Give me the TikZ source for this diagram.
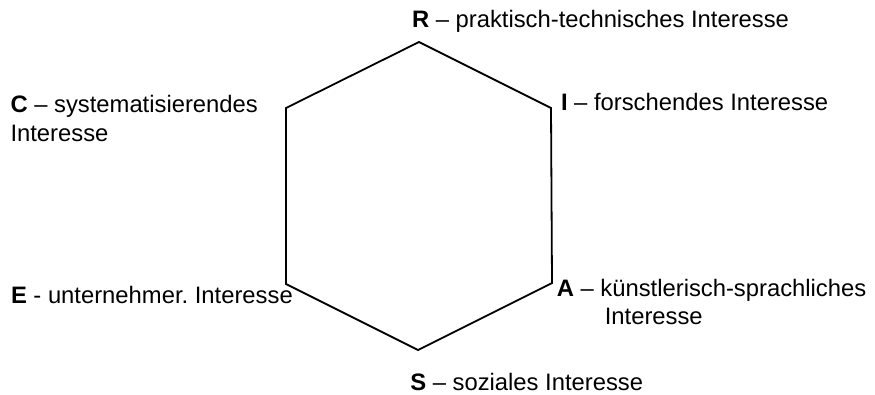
\documentclass[tikz,border=0pt]{standalone}
\usepackage{fontspec}
\setmainfont{Liberation Sans}
\frenchspacing
\begin{document}
\begin{tikzpicture}[x=1pt,y=-1pt,
  lbl/.style={anchor=base west,inner sep=0pt,outer sep=0pt,font=\fontsize{23.8}{28}\selectfont},
  hexline/.style={line width=1.8pt,line join=miter}]
\useasboundingbox (0,0) rectangle (875,394);
% hexagon vertices
\coordinate (T) at (419,42);
\coordinate (UR) at (551,108);
\coordinate (LR) at (552,283);
\coordinate (B) at (418,350);
\coordinate (LL) at (286,284);
\coordinate (UL) at (286,108);
\draw[hexline] (T) -- (UR) -- (LR) -- (B) -- (LL) -- (UL) -- cycle;
% labels
\node[lbl] (r) at (412,27.7) {\textbf{R} – praktisch-technisches Interesse};
\node[lbl] (i) at (561,110) {\textbf{I} – forschendes Interesse};
\node[lbl] (c1) at (10.5,112) {\textbf{C} – systematisierendes};
\node[lbl] (c2) at (10.5,141) {Interesse};
\node[lbl] (e) at (11,303.3) {\textbf{E} - unternehmer. Interesse};
\node[lbl] (a1) at (556.8,296.7) {\textbf{A} – künstlerisch-sprachliches};
\node[lbl] (a2) at (604.8,324) {Interesse};
\node[lbl] (s) at (410.3,390) {\textbf{S} – soziales Interesse};
\end{tikzpicture}
\end{document}
